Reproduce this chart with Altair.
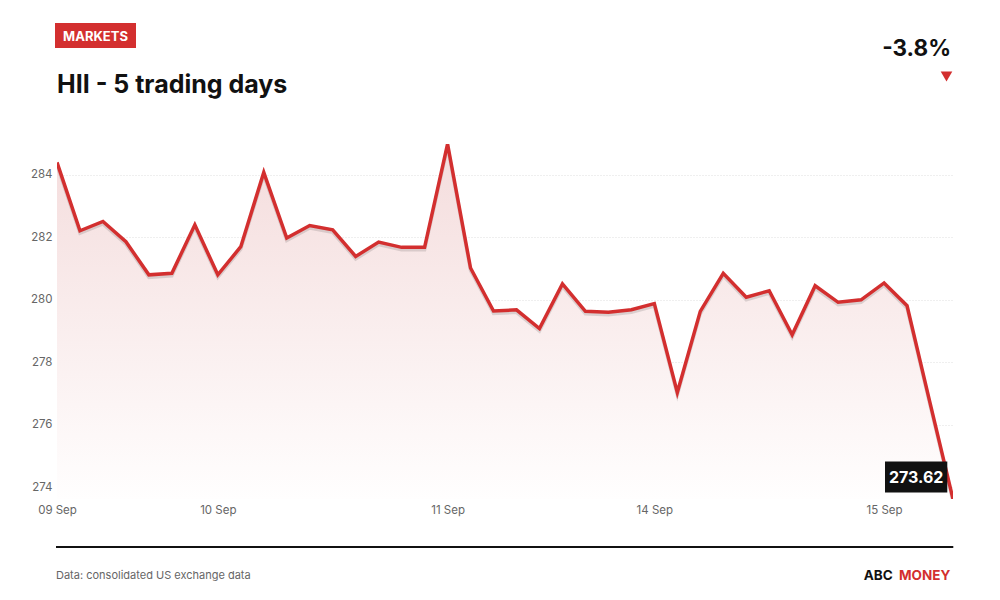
import altair as alt
import pandas as pd

# ---- data ----
prices = [284.40, 282.21, 282.51, 281.86, 280.80, 280.85, 282.40,
          280.80, 281.70, 284.08, 281.98, 282.38, 282.24, 281.39, 281.85, 281.68, 281.68,
          284.99, 281.02, 279.64, 279.68, 279.08, 280.51, 279.63, 279.60, 279.68,
          279.88, 277.03, 279.63, 280.85, 280.08, 280.29, 278.88, 280.45, 279.92, 280.00,
          280.54, 279.81, 276.70, 273.62]
day_labels = ["09 Sep", "10 Sep", "11 Sep", "14 Sep", "15 Sep"]
points_per_day = [7, 10, 9, 10, 4]
y_ticks = [274, 276, 278, 280, 282, 284]

ticker = "HII"
title_text = f"{ticker} - 5 trading days"
source_text = "Data: consolidated US exchange data"

RED = "#d32f2f"
GREY = "#666666"
FONT = "Inter"

df = pd.DataFrame({"i": list(range(len(prices))), "price": prices})
last_df = df.tail(1)

tick_idx = []
acc = 0
for n in points_per_day:
    tick_idx.append(acc)
    acc += n
label_expr = " : ".join(f"datum.value == {t} ? '{lab}'" for t, lab in zip(tick_idx, day_labels)) + " : ''"

pct = (prices[-1] / prices[0] - 1) * 100
pct_text = f"{pct:.1f}%"

y_min, y_max = min(prices), max(prices)
xs = alt.Scale(domain=[0, len(prices) - 1], nice=False, zero=False)
ys = alt.Scale(domain=[y_min, y_max], nice=False, zero=False)

x_enc = alt.X("i:Q", scale=xs, axis=alt.Axis(
    values=tick_idx, labelExpr=label_expr, title=None, grid=False, ticks=False,
    domain=False, labelFlush=False, labelOverlap=False, labelPadding=5,
    labelFont=FONT, labelFontSize=11.5, labelColor=GREY))
y_enc = alt.Y("price:Q", scale=ys, axis=alt.Axis(
    values=y_ticks, title=None, grid=True, gridColor="#dedede", gridDash=[1, 2],
    gridWidth=1, ticks=False, domain=False, labelPadding=5,
    labelFont=FONT, labelFontSize=11.5, labelColor=GREY))

base = alt.Chart(df)

area = base.mark_area(clip=True, opacity=1, color=alt.Gradient(
    gradient="linear", x1=1, x2=1, y1=0, y2=1,
    stops=[alt.GradientStop(color="#f4dcdc", offset=0),
           alt.GradientStop(color="#fffefe", offset=1)])).encode(
    x=x_enc, y=y_enc, y2=alt.datum(y_min))

shadow = base.mark_line(clip=True, color="#000000", opacity=0.12, strokeWidth=3.5,
                        yOffset=2.5).encode(x=x_enc, y=y_enc)
line = base.mark_line(clip=True, color=RED, strokeWidth=3.5).encode(x=x_enc, y=y_enc)


def one():
    return alt.Chart(pd.DataFrame({"k": [0]}))


badge = one().mark_rect(color=RED).encode(
    x=alt.value(-2), x2=alt.value(79), y=alt.value(-121), y2=alt.value(-96))
badge_txt = one().mark_text(text="MARKETS", font=FONT, fontSize=13, fontWeight="bold",
                            color="white", align="center", baseline="alphabetic").encode(
    x=alt.value(38.5), y=alt.value(-103))
title = one().mark_text(text=title_text, font=FONT, fontSize=25, fontWeight="bold",
                        color="#111111", align="left", baseline="alphabetic").encode(
    x=alt.value(0), y=alt.value(-51))
pct_mark = one().mark_text(text=pct_text, font=FONT, fontSize=22.5, fontWeight="bold",
                           color="#111111", align="right", baseline="alphabetic").encode(
    x=alt.value(894), y=alt.value(-87.6))
tri = one().mark_point(shape="triangle-down", filled=True, color=RED, opacity=1,
                       size=135).encode(x=alt.value(889.5), y=alt.value(-67.5))

val_box = one().mark_rect(color="#111111").encode(
    x=alt.value(828), x2=alt.value(890.3), y=alt.value(317.4), y2=alt.value(348.4))
val_txt = alt.Chart(last_df).mark_text(font=FONT, fontSize=16, fontWeight="bold",
                                       color="white", align="center",
                                       baseline="alphabetic").encode(
    text=alt.Text("price:Q", format=".2f"), x=alt.value(859.2), y=alt.value(339))

rule = one().mark_rule(color="#111111", strokeWidth=2).encode(
    x=alt.value(-1), x2=alt.value(896.3), y=alt.value(403))
source = one().mark_text(text=source_text, font=FONT, fontSize=11, color=GREY,
                         align="left", baseline="alphabetic").encode(
    x=alt.value(-1), y=alt.value(435))
abc = one().mark_text(text="ABC", font=FONT, fontSize=13.5, fontWeight="bold",
                      color="#111111", align="right", baseline="alphabetic").encode(
    x=alt.value(835.7), y=alt.value(435.7))
money = one().mark_text(text="MONEY", font=FONT, fontSize=13.5, fontWeight="bold",
                        color=RED, align="right", baseline="alphabetic").encode(
    x=alt.value(893.3), y=alt.value(435.7))

chart = alt.layer(area, shadow, line, val_box, val_txt, badge, badge_txt, title,
                  pct_mark, tri, rule, source, abc, money).properties(
    width=896, height=355,
    padding={"left": 49, "top": 136, "right": 37, "bottom": 89},
    autosize=alt.AutoSizeParams(type="none"),
    background="white",
).configure_view(stroke=None)

chart.save("out.html", embed_options={"renderer": "svg", "actions": False})
